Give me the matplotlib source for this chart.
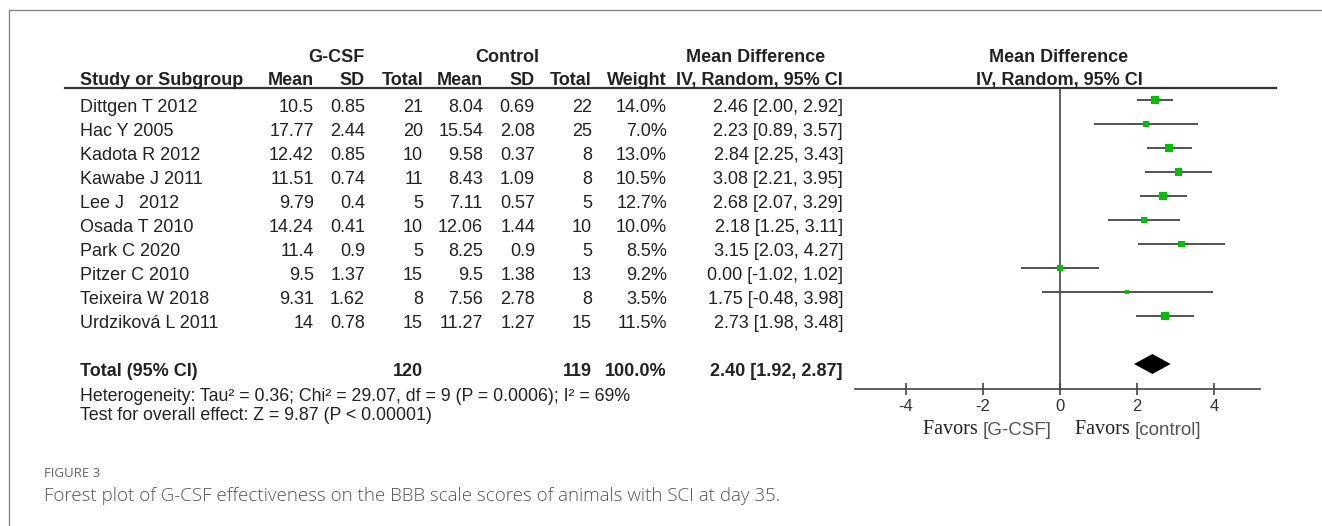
import numpy as np
import matplotlib.pyplot as plt

plt.rcParams['axes.unicode_minus'] = False

# Study-level data (BBB score at day 35)
studies = ["Dittgen T 2012", "Hac Y 2005", "Kadota R 2012", "Kawabe J 2011", "Lee J   2012",
           "Osada T 2010", "Park C 2020", "Pitzer C 2010", "Teixeira W 2018", "Urdziková L 2011"]
gcsf_mean = [10.5, 17.77, 12.42, 11.51, 9.79, 14.24, 11.4, 9.5, 9.31, 14]
gcsf_sd = [0.85, 2.44, 0.85, 0.74, 0.4, 0.41, 0.9, 1.37, 1.62, 0.78]
gcsf_n = [21, 20, 10, 11, 5, 10, 5, 15, 8, 15]
ctrl_mean = [8.04, 15.54, 9.58, 8.43, 7.11, 12.06, 8.25, 9.5, 7.56, 11.27]
ctrl_sd = [0.69, 2.08, 0.37, 1.09, 0.57, 1.44, 0.9, 1.38, 2.78, 1.27]
ctrl_n = [22, 25, 8, 8, 5, 10, 5, 13, 8, 15]
weights = [14.0, 7.0, 13.0, 10.5, 12.7, 10.0, 8.5, 9.2, 3.5, 11.5]
md = [2.46, 2.23, 2.84, 3.08, 2.68, 2.18, 3.15, 0.00, 1.75, 2.73]
ci_lo = [2.00, 0.89, 2.25, 2.21, 2.07, 1.25, 2.03, -1.02, -0.48, 1.98]
ci_hi = [2.92, 3.57, 3.43, 3.95, 3.29, 3.11, 4.27, 1.02, 3.98, 3.48]

# Pooled estimate
total_weight = 100.0
pooled_md, pooled_lo, pooled_hi = 2.40, 1.92, 2.87
heterogeneity = "Heterogeneity: Tau² = 0.36; Chi² = 29.07, df = 9 (P = 0.0006); I² = 69%"
overall_test = "Test for overall effect: Z = 9.87 (P < 0.00001)"
x_ticks = [-4, -2, 0, 2, 4]

# Layout (pixels)
W, H = 1322, 526
ROW_TOP, ROW_STEP = 100, 24
TOTAL_ROW = len(studies) + 1
FONT = 'Liberation Sans'
INK = '#222222'
GREY = '#444444'
GREEN = '#00C000'
FS = 13

fig = plt.figure(figsize=(W / 100, H / 100), dpi=100)
bg = fig.add_axes([0, 0, 1, 1])
bg.set_xlim(0, W)
bg.set_ylim(H, 0)
bg.axis('off')


def put(x, y, s, ha='left', bold=False, size=FS, color=INK, family=FONT, weight=None):
    if weight is None:
        weight = 'bold' if bold else 'normal'
    return bg.text(x, y, s, ha=ha, va='baseline', fontsize=size, color=color,
                   family=family, fontweight=weight)


def baseline(i):
    return ROW_TOP + ROW_STEP * i + 12


# frame
bg.plot([9, W], [10, 10], color='#888888', lw=1)
bg.plot([9, 9], [10, H], color='#888888', lw=1)

# header
put(336, 62, "G-CSF", ha='center', bold=True)
put(507, 62, "Control", ha='center', bold=True)
put(756, 62, "Mean Difference", ha='center', bold=True)
put(1059, 62, "Mean Difference", ha='center', bold=True)
put(80, 85, "Study or Subgroup", bold=True)
col_x = [314, 365, 423, 483, 535, 592, 667, 843]
col_names = ["Mean", "SD", "Total", "Mean", "SD", "Total", "Weight", "IV, Random, 95% CI"]
for x, name in zip(col_x, col_names):
    put(x, 85, name, ha='right', bold=True)
put(1059, 85, "IV, Random, 95% CI", ha='center', bold=True)
bg.plot([65, 1276], [87.5, 87.5], color='#333333', lw=1.6)

# study rows
for i, name in enumerate(studies):
    y = baseline(i)
    cells = [f"{gcsf_mean[i]:g}", f"{gcsf_sd[i]:g}", f"{gcsf_n[i]}",
             f"{ctrl_mean[i]:g}", f"{ctrl_sd[i]:g}", f"{ctrl_n[i]}",
             f"{weights[i]:.1f}%", f"{md[i]:.2f} [{ci_lo[i]:.2f}, {ci_hi[i]:.2f}]"]
    put(80, y, name)
    for x, s in zip(col_x, cells):
        put(x, y, s, ha='right')

# total row
y = baseline(TOTAL_ROW)
put(80, y, "Total (95% CI)", bold=True)
put(col_x[2], y, f"{sum(gcsf_n)}", ha='right', bold=True)
put(col_x[5], y, f"{sum(ctrl_n)}", ha='right', bold=True)
put(col_x[6], y, f"{total_weight:.1f}%", ha='right', bold=True)
put(col_x[7], y, f"{pooled_md:.2f} [{pooled_lo:.2f}, {pooled_hi:.2f}]", ha='right', bold=True)
put(80, 401, heterogeneity, size=12.8)
put(80, 420, overall_test, size=12.8)

# forest panel
x0, x1 = 855, 1260
xmin, xmax = -5.32, 5.19
y_top, y_bot = 87.5, 389
ax = fig.add_axes([x0 / W, 1 - y_bot / H, (x1 - x0) / W, (y_bot - y_top) / H])
ax.set_xlim(xmin, xmax)
ax.set_ylim((y_bot - ROW_TOP) / ROW_STEP, (y_top - ROW_TOP) / ROW_STEP)
ax.patch.set_alpha(0)
for side in ['top', 'left', 'right']:
    ax.spines[side].set_visible(False)
ax.spines['bottom'].set_color(GREY)
ax.spines['bottom'].set_linewidth(1.2)
ax.set_yticks([])
ax.set_xticks(x_ticks)
ax.tick_params(axis='x', direction='inout', length=8, width=1.2, color=GREY,
               labelsize=12, pad=3, labelcolor='#333333')
for lab in ax.get_xticklabels():
    lab.set_family(FONT)
ax.axvline(0, color=GREY, lw=1.2)

rows = np.arange(len(studies))
ax.hlines(rows, ci_lo, ci_hi, color=GREY, lw=1.3, zorder=2)
ax.scatter(md, rows, s=np.array(weights) * 2.5, marker='s', color=GREEN, linewidths=0, zorder=3)
half = 10 / ROW_STEP
ax.fill([pooled_lo, pooled_md, pooled_hi, pooled_md],
        [TOTAL_ROW, TOTAL_ROW - half, TOTAL_ROW, TOTAL_ROW + half], color='black', lw=0)

# favours labels
for x, grp in [(923, "[G-CSF]"), (1075, "[control]")]:
    t = put(x, 434, "Favors ", family='Liberation Serif', size=14.5)
    bg.annotate(grp, xy=(1, 0), xycoords=t, va='bottom', ha='left', fontsize=13.5,
                family=FONT, color='#555555')

# caption
put(44, 477, "FIGURE 3", size=9.5, color='#666666', family='Open Sans')
put(44, 501, "Forest plot of G-CSF effectiveness on the BBB scale scores of animals with SCI at day 35.",
    size=13.5, color='#555555', family='Open Sans', weight='light')

fig.savefig('out.png', dpi=100)
